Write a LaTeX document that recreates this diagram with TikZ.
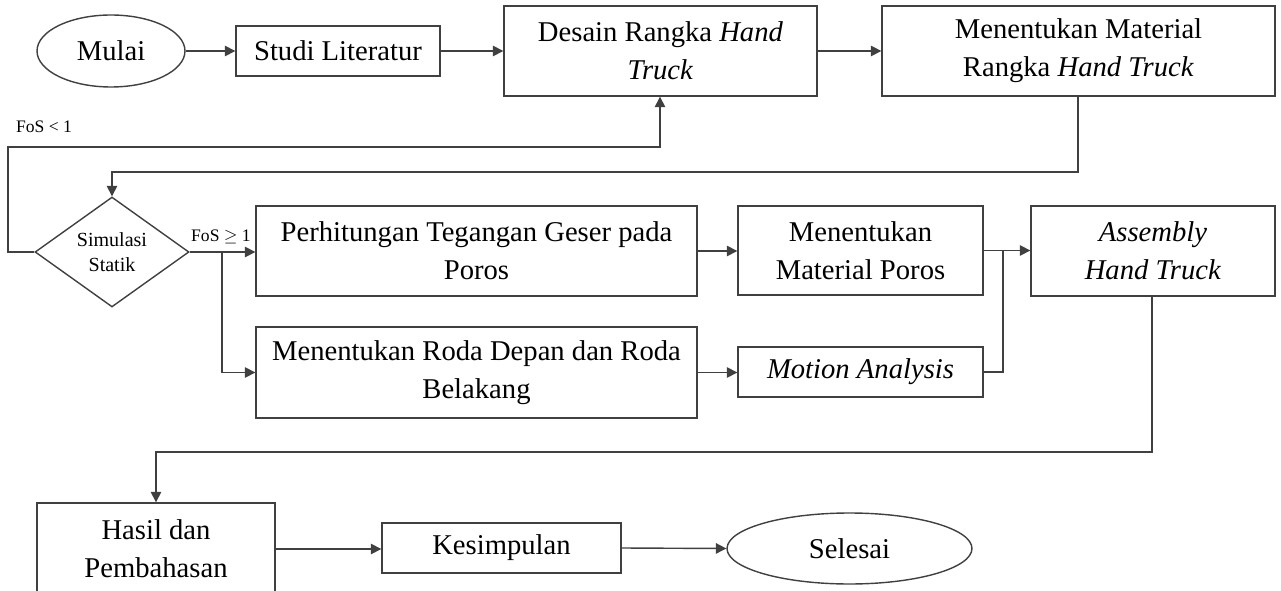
\documentclass[tikz,border=0pt]{standalone}
\usepackage{fontspec}
\setmainfont{Liberation Serif}
\usepackage{tikz}
\usetikzlibrary{shapes.geometric,arrows.meta}

\begin{document}
\begin{tikzpicture}[x=0.02cm, y=-0.02cm,
    line width=0.8pt, black!75,
    box/.style={draw, rectangle, inner sep=0pt, align=center, text=black,
        font=\fontsize{16.3}{21.6}\selectfont},
    oval/.style={draw, ellipse, inner sep=0pt, text=black,
        font=\fontsize{16.3}{21.6}\selectfont},
    decision/.style={draw, diamond, aspect=1.4, inner sep=0pt, align=center, text=black,
        minimum width=3.08cm, minimum height=2.2cm, font=\fontsize{11.4}{14.2}\selectfont},
    arr/.style={-{Triangle[width=6pt,length=6pt]}},
    lbl/.style={inner sep=0pt, text=black, font=\fontsize{10}{12}\selectfont}]

    \useasboundingbox (0,0) rectangle (1281,591);

    % top row
    \node [oval, minimum width=2.96cm, minimum height=1.44cm] (mulai) at (111, 51) {Mulai};
    \node [box, minimum width=4.08cm, minimum height=1.0cm] (studi) at (338, 51) {Studi Literatur};
    \node [box, minimum width=6.26cm, minimum height=1.8cm] (desain) at (660.5, 51) {Desain Rangka \textit{Hand}\\\textit{Truck}};
    \node [box, minimum width=7.86cm, minimum height=1.8cm] (matrangka) at (1078.5, 51) {Menentukan Material\\Rangka \textit{Hand Truck}};

    % middle rows
    \node [decision] (simulasi) at (112, 252) {Simulasi\\Statik};
    \node [box, minimum width=8.82cm, minimum height=1.8cm] (hitung) at (476.5, 251) {Perhitungan Tegangan Geser pada\\Poros};
    \node [box, minimum width=8.82cm, minimum height=1.82cm] (roda) at (476.5, 372.5) {Menentukan Roda Depan dan Roda\\Belakang};
    \node [box, minimum width=4.9cm, minimum height=1.78cm] (matporos) at (860.5, 250.5) {Menentukan\\Material Poros};
    \node [box, minimum width=4.9cm, minimum height=1.0cm] (motion) at (860.5, 372) {\textit{Motion Analysis}};
    \node [box, minimum width=4.88cm, minimum height=1.8cm] (assembly) at (1153, 251) {\textit{Assembly}\\\textit{Hand Truck}};

    % bottom row
    \node [box, minimum width=4.76cm, minimum height=1.84cm] (hasil) at (156, 549) {Hasil dan\\Pembahasan};
    \node [box, minimum width=4.78cm, minimum height=1.0cm] (kesimpulan) at (501.5, 548) {Kesimpulan};
    \node [oval, minimum width=4.9cm, minimum height=1.42cm] (selesai) at (849.5, 548.5) {Selesai};

    \coordinate (down_a) at (1078, 172);
    \coordinate (back_l) at (8, 147);
    \coordinate (back_r) at (660, 147);
    \coordinate (split) at (222, 252);
    \coordinate (join) at (1003, 251);
    \coordinate (down_b) at (1152, 452);

    \node [lbl] (fos_lt) at (44, 127) {FoS < 1};
    \node [lbl] (fos_ge) at (221, 237) {FoS $\geq$ 1};

    \draw [arr] (mulai.east) -- (studi.west);
    \draw [arr] (studi.east) -- (desain.west);
    \draw [arr] (desain.east) -- (matrangka.west);
    \draw [arr] (matrangka.south -| down_a) -- (down_a) -| (simulasi.north);
    \draw [arr] (simulasi.west) -| (back_l) -- (back_r) -- (back_r |- desain.south);
    \draw [arr] (simulasi.east) -- (simulasi.east -| hitung.west);
    \draw [arr] (split) |- (roda.west);
    \draw [arr] (hitung.east) -- (hitung.east -| matporos.west);
    \draw [arr] (roda.east) -- (roda.east -| motion.west);
    \draw [arr] (matporos.east) -- (matporos.east -| assembly.west);
    \draw (motion.east) -| (join);
    \draw [arr] (assembly.south -| down_b) -- (down_b) -| (hasil.north);
    \draw [arr] (hasil.east) -- (hasil.east -| kesimpulan.west);
    \draw [arr] (kesimpulan.east) -- (selesai.west);

\end{tikzpicture}
\end{document}
